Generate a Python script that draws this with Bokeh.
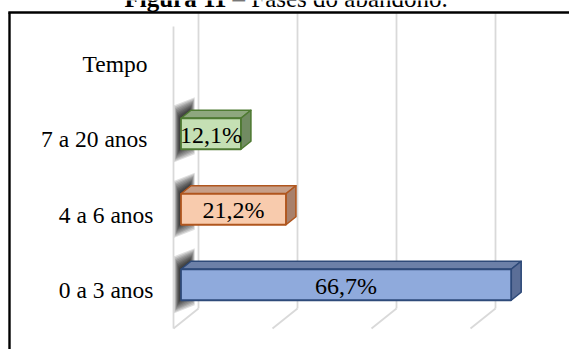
from bokeh.plotting import figure
from bokeh.models import Range1d
from bokeh.core.properties import value
from bokeh.embed import file_html
from bokeh.resources import INLINE

# ---------------- data ----------------
categories = ["0 a 3 anos", "4 a 6 anos", "7 a 20 anos", "Tempo"]
percent_values = [66.7, 21.2, 12.1]
bar_labels = ["66,7%", "21,2%", "12,1%"]
x_ticks = [0, 20, 40, 60, 80]
title_bold = "Figura 11"
title_rest = "– Fases do abandono."

# ---------------- styling / layout ----------------
W, H = 569, 349
X0_PX = 173.0          # front-plane position of value 0
PX_PER_UNIT = 4.95     # pixels per percentage point
Y_BASE_PX = 328.0      # front-plane bottom of the category axis
PX_PER_CAT = 75.5      # pixels per category
DEPTH_PX = (25.0, 20.0)
TEXT_SHIFT_PX = 7.0    # renderer draws baselines slightly low

front_colors = ["#8FAADC", "#F8CBAD", "#C5E0B4"]
top_colors = ["#6C80A8", "#C79F88", "#8EA77E"]
side_colors = ["#5B6E97", "#A8806B", "#718B62"]
edge_colors = ["#2E4A79", "#B0561E", "#4F7A33"]
grid_color = "#D9D9D9"
FONT = value("'Liberation Serif', 'Times New Roman', serif")


def px2x(px):
    return (px - X0_PX) / PX_PER_UNIT


def px2y(py):
    return (Y_BASE_PX - py) / PX_PER_CAT - 0.5


DX = DEPTH_PX[0] / PX_PER_UNIT
DY = DEPTH_PX[1] / PX_PER_CAT


def proj(x, y, d):
    return x + d * DX, y + d * DY


BAR_H = 31.0 / PX_PER_CAT
D0, D1 = 0.3, 0.7
y_bottom = -0.5
y_top = len(categories) - 0.5
border_y = px2y(12)
border_x = px2x(9)

p = figure(width=W, height=H,
           x_range=Range1d(px2x(0), px2x(W)),
           y_range=Range1d(px2y(H), px2y(0)),
           x_axis_type=None, y_axis_type=None,
           toolbar_location=None, output_backend="svg",
           min_border=0, outline_line_color=None,
           background_fill_color="white", border_fill_color="white")

# ---------------- walls / grid ----------------
back_x0, back_x1, back_y0, back_y1 = [], [], [], []
floor_x0, floor_x1, floor_y0, floor_y1 = [], [], [], []
for t in x_ticks:
    bx, by = proj(t, y_bottom, 1)
    back_x0.append(bx); back_x1.append(bx)
    back_y0.append(by); back_y1.append(border_y - 0.01)
    fx, fy = proj(t, y_bottom, 0)
    floor_x0.append(fx); floor_x1.append(bx)
    floor_y0.append(fy); floor_y1.append(by)

p.segment(x0=back_x0, y0=back_y0, x1=back_x1, y1=back_y1,
          line_color=grid_color, line_width=1.8)
p.segment(x0=floor_x0, y0=floor_y0, x1=floor_x1, y1=floor_y1,
          line_color=grid_color, line_width=1.8)
# front edge of the side wall
p.segment(x0=[x_ticks[0]], y0=[y_bottom], x1=[x_ticks[0]], y1=[y_top],
          line_color=grid_color, line_width=1.8)

# ---------------- soft shadows on side wall ----------------
n_layers = 10
for i, v in enumerate(percent_values):
    c = i
    for k in range(n_layers):
        ex = (0.3 + 0.55 * k) / PX_PER_UNIT
        ey = (0.5 + 1.4 * k) / PX_PER_CAT
        sx = -1.5 / PX_PER_UNIT
        pts = [proj(0, c - BAR_H / 2, D0), proj(0, c + BAR_H / 2, D0),
               proj(0, c + BAR_H / 2, D1), proj(0, c - BAR_H / 2, D1)]
        xs = [pts[0][0] - ex + sx, pts[1][0] - ex + sx, pts[2][0] + ex + sx, pts[3][0] + ex + sx]
        ys = [pts[0][1] - ey, pts[1][1] + ey, pts[2][1] + ey, pts[3][1] - ey]
        p.patch(xs, ys, fill_color="black", fill_alpha=0.13, line_color=None)

# ---------------- 3D bars ----------------
top_xs, top_ys, side_xs, side_ys = [], [], [], []
fl, fr, fb, ft = [], [], [], []
for i, v in enumerate(percent_values):
    c = i
    yb, yt = c - BAR_H / 2, c + BAR_H / 2
    a = proj(0, yt, D0); b = proj(v, yt, D0); cc = proj(v, yt, D1); d = proj(0, yt, D1)
    top_xs.append([a[0], b[0], cc[0], d[0]]); top_ys.append([a[1], b[1], cc[1], d[1]])
    s1 = proj(v, yb, D0); s2 = proj(v, yb, D1); s3 = proj(v, yt, D1); s4 = proj(v, yt, D0)
    side_xs.append([s1[0], s2[0], s3[0], s4[0]]); side_ys.append([s1[1], s2[1], s3[1], s4[1]])
    l0 = proj(0, yb, D0); r0 = proj(v, yt, D0)
    fl.append(l0[0]); fb.append(l0[1]); fr.append(r0[0]); ft.append(r0[1])

p.patches(top_xs, top_ys, fill_color=top_colors, line_color=edge_colors,
          line_width=1.6, line_join="round")
p.patches(side_xs, side_ys, fill_color=side_colors, line_color=edge_colors,
          line_width=1.6, line_join="round")
p.quad(left=fl, right=fr, bottom=fb, top=ft, fill_color=front_colors,
       line_color=edge_colors, line_width=1.8)

shift = TEXT_SHIFT_PX / PX_PER_CAT

# value labels on bar fronts
lx = [v / 2 + D0 * DX for v in percent_values]
ly = [i + D0 * DY - 8.0 / PX_PER_CAT + shift for i in range(len(percent_values))]
p.text(x=lx, y=ly, text=bar_labels, text_align="center", text_baseline="alphabetic",
       text_font=FONT, text_font_size="24px", text_color="black")

# category labels
label_right_px = [153, 153, 147, 147]
cx = [px2x(r) for r in label_right_px]
cy = [i - 6.5 / PX_PER_CAT + shift for i in range(len(categories))]
p.text(x=cx, y=cy, text=categories, text_align="right", text_baseline="alphabetic",
       text_font=FONT, text_font_size="23.5px", text_color="black")

# ---------------- frame border and caption ----------------
p.line(x=[border_x, border_x], y=[px2y(H + 5), border_y], line_color="black", line_width=2.4)
p.line(x=[border_x - 0.24, px2x(W + 5)], y=[border_y, border_y], line_color="black", line_width=2.4)

split_px = 226
p.text(x=[px2x(split_px)], y=[px2y(5.0) + shift], text=[title_bold], text_align="right",
       text_baseline="alphabetic", text_font=FONT, text_font_size="25px",
       text_font_style="bold", text_color="black")
p.text(x=[px2x(split_px + 6)], y=[px2y(5.0) + shift], text=[title_rest], text_align="left",
       text_baseline="alphabetic", text_font=FONT, text_font_size="25px",
       text_color="black")

open("out.html", "w").write(file_html(p, INLINE))
